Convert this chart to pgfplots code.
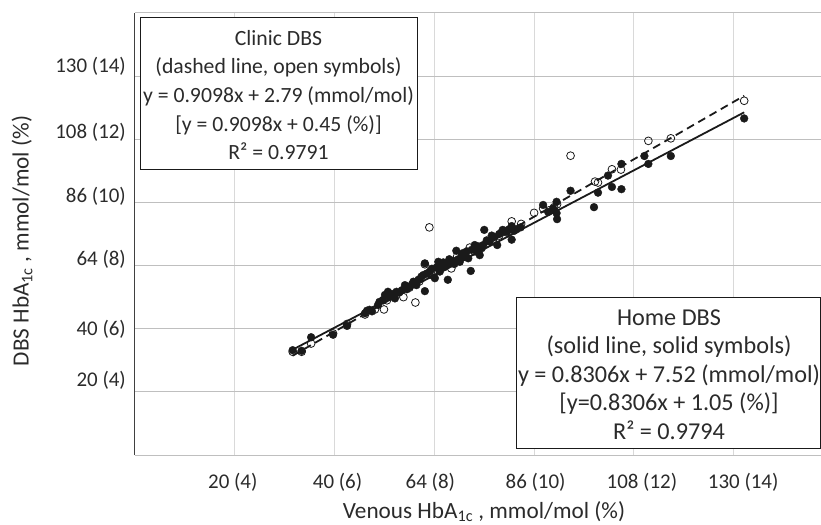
\documentclass[border=0pt]{standalone}
\usepackage{fontspec}
\setmainfont{Carlito}
\usepackage{pgfplots}
\pgfplotsset{compat=1.18}
\definecolor{txt}{HTML}{2B2B2B}
\definecolor{vgrid}{HTML}{D9D9D9}
\definecolor{hgrid}{HTML}{BFBFBF}
\definecolor{ink}{HTML}{1A1A1A}
\newcommand{\bigf}{\fontsize{23.3}{28.7}\selectfont}
\newcommand{\clinf}{\fontsize{21.8}{28.7}\selectfont}
\newcommand{\homef}{\fontsize{24.3}{28.7}\selectfont}
\newcommand{\tickf}{\fontsize{21}{25}\selectfont}

\begin{document}
\begin{tikzpicture}
\begin{axis}[
  scale only axis, width=686bp, height=442bp,
  xmin=2, xmax=15.75, ymin=2, ymax=16,
  axis line style={draw=none},
  tick style={draw=none},
  % labels were placed by hand in the original, slightly off the grid
  xtick={3.96,6.06,7.92,10.03,12.16,14.19},
  xticklabels={20 (4),40 (6),64 (8),86 (10),108 (12),130 (14)},
  ytick={4.37,5.99,8.21,10.20,12.23,14.32},
  yticklabels={20 (4),40 (6),64 (8),86 (10),108 (12),130 (14)},
  ticklabel style={font=\tickf, text=txt, inner sep=0pt},
  xticklabel style={anchor=base, yshift=-33bp},
  yticklabel style={anchor=east, xshift=-9bp},
  clip=false,
]
% grid and frame
\pgfplotsinvokeforeach{4,6,8,10,12,14}{
  \draw[vgrid, line width=1bp] (axis cs:#1,2) -- (axis cs:#1,16);
}
\pgfplotsinvokeforeach{2,4,6,8,10,12,14,16}{
  \draw[hgrid, line width=1bp] (axis cs:2,#1) -- (axis cs:15.75,#1);
}
\draw[black!75, line width=1bp] (axis cs:2,2) -- (axis cs:2,16);

% home DBS, solid symbols
\addplot[only marks, mark=*, mark size=3.9bp, mark options={fill=ink, draw=ink}] coordinates {
(5.16,5.32)(5.34,5.30)(5.53,5.73)(5.97,5.81)(6.25,6.09)(6.61,6.49)(6.65,6.57)
(6.70,6.60)(6.75,6.55)(6.87,6.75)(6.90,6.85)(6.97,6.91)(7.01,7.07)(7.04,7.07)
(7.07,7.17)(7.11,7.01)(7.15,7.10)(7.21,6.96)(7.24,7.17)(7.30,7.15)(7.41,7.38)
(7.45,7.25)(7.51,7.33)(7.58,7.49)(7.61,7.44)(7.64,7.38)(7.68,7.55)(7.74,7.65)
(7.81,7.19)(7.81,8.07)(7.85,7.75)(7.91,7.81)(7.95,7.90)(8.01,7.60)(8.05,7.95)
(8.08,8.12)(8.11,7.81)(8.15,8.00)(8.20,7.95)(8.27,7.55)(8.30,8.20)(8.34,8.07)
(8.38,8.15)(8.40,8.05)(8.44,8.47)(8.48,8.20)(8.51,8.12)(8.55,8.35)(8.61,8.28)
(8.68,8.23)(8.73,7.83)(8.75,8.50)(8.81,8.65)(8.85,8.44)(8.91,8.33)(8.95,8.55)
(8.98,8.65)(9.00,9.13)(9.05,8.80)(9.11,8.76)(9.20,8.90)(9.26,8.65)(9.30,9.00)
(9.37,9.13)(9.41,9.10)(9.45,9.07)(9.55,9.25)(9.55,8.82)(9.60,9.10)(9.65,9.15)
(9.73,9.21)(10.18,9.92)(10.28,9.70)(10.38,9.81)(10.45,10.02)(10.45,9.66)
(10.46,9.47)(10.73,10.37)(11.20,9.85)(11.28,10.31)(11.48,10.85)(11.56,10.49)
(11.75,10.42)(11.75,11.22)(12.21,11.47)(12.29,11.22)(12.74,11.47)(14.21,12.66)
(7.35,7.22)(7.55,7.40)(7.78,7.70)(8.18,8.10)(8.25,8.05)(8.58,8.40)(8.65,8.45)
(8.88,8.60)(9.15,8.95)(9.35,9.05)(9.50,9.15)
};
% clinic DBS, open symbols
\addplot[only marks, mark=o, mark size=3.9bp, mark options={draw=ink, line width=0.8bp}] coordinates {
(5.16,5.27)(5.34,5.27)(5.53,5.53)(5.97,5.85)(6.25,6.15)(6.61,6.45)(6.81,6.61)
(6.99,6.61)(7.05,6.90)(7.20,7.05)(7.38,7.00)(7.50,7.30)(7.62,6.83)(7.70,7.50)
(7.81,8.04)(7.90,9.21)(7.95,7.70)(8.10,7.85)(8.20,8.00)(8.26,8.02)(8.34,7.91)
(8.46,8.30)(8.55,8.25)(8.60,8.35)(8.71,8.57)(8.80,8.45)(8.90,8.60)(9.05,8.70)
(9.18,8.83)(9.30,8.95)(9.45,9.05)(9.55,9.40)(9.74,9.32)(10.00,9.67)(10.18,9.81)
(10.30,9.75)(10.40,9.85)(10.46,9.94)(10.73,11.48)(11.22,10.66)(11.28,10.63)
(11.56,11.05)(11.74,11.04)(12.29,11.95)(12.74,12.03)(14.21,13.22)
};
% fitted lines
\addplot[ink, line width=1.8bp, dash pattern=on 8bp off 5bp] coordinates {(5.16,5.145) (14.21,13.378)};
\addplot[ink, line width=1.8bp] coordinates {(5.16,5.336) (14.21,12.853)};
\end{axis}

% text boxes
\draw[ink, line width=1bp, fill=white] (5bp,437bp) rectangle (282bp,285bp);
\node[align=center, font=\clinf, text=txt] at (143.5bp,360bp)
  {Clinic DBS\\(dashed line, open symbols)\\y = 0.9098x + 2.79 (mmol/mol)\\{[y = 0.9098x + 0.45 (\%)]}\\R² = 0.9791};
\draw[ink, line width=1bp, fill=white] (381bp,157bp) rectangle (685bp,6bp);
\node[align=center, font=\homef, text=txt] at (534bp,80.5bp)
  {Home DBS\\(solid line, solid symbols)\\y = 0.8306x + 7.52 (mmol/mol)\\{[y=0.8306x + 1.05 (\%)]}\\R² = 0.9794};

% axis titles
\node[font=\bigf, text=txt] at (349bp,-56.5bp) {Venous HbA\textsubscript{1c} , mmol/mol (\%)};
\node[font=\bigf, text=txt, rotate=90] at (-113bp,214bp) {DBS HbA\textsubscript{1c} , mmol/mol (\%)};

\pgfresetboundingbox
\path (-135bp,-70bp) rectangle (686bp,455bp);
\end{tikzpicture}
\end{document}
